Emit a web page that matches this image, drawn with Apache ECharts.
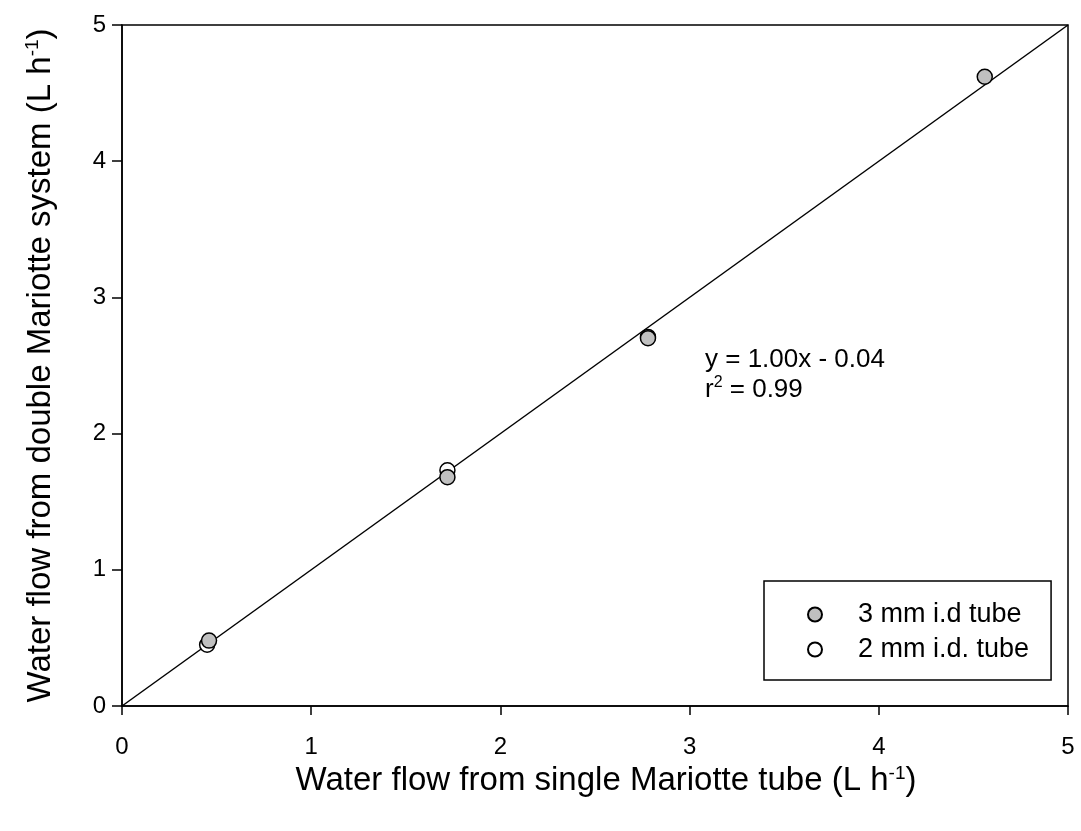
<!DOCTYPE html>
<html>
<head>
<meta charset="utf-8">
<script src="https://cdn.jsdelivr.net/npm/echarts@6/dist/echarts.min.js"></script>
<style>
  html, body { margin: 0; padding: 0; background: #fff; }
  #chart { width: 1081px; height: 831px; }
</style>
</head>
<body>
<div id="chart"></div>
<script>
// values
var tube3mm = [[0.46, 0.48], [1.72, 1.68], [2.78, 2.70], [4.56, 4.62]];
var tube2mm = [[0.45, 0.45], [1.72, 1.73], [2.78, 2.71]];
var oneToOne = [[0, 0], [5, 5]];
var axisTicks = [0, 1, 2, 3, 4, 5];

var font = 'Liberation Sans, Arial, sans-serif';
var myChart = echarts.init(document.getElementById('chart'));

var titleRich = {
  t: { fontSize: 33, fontFamily: font, color: '#000' },
  s: { fontSize: 19, fontFamily: font, color: '#000', verticalAlign: 'top', padding: [0, 0, 16, 0] }
};

var option = {
  backgroundColor: '#fff',
  animation: false,
  textStyle: { fontFamily: font, color: '#000' },
  grid: { left: 122, right: 13, top: 25, bottom: 125, show: true, borderColor: '#000', borderWidth: 1.5 },
  xAxis: {
    type: 'value', min: axisTicks[0], max: axisTicks[axisTicks.length - 1], interval: 1,
    name: '{t|Water flow from single Mariotte tube (L h}{s|-1}{t|)}',
    nameLocation: 'middle', nameGap: 51,
    nameTextStyle: { fontSize: 33, rich: titleRich, padding: [0, 0, 0, 22] },
    axisLine: { onZero: false, lineStyle: { color: '#000', width: 1.5 } },
    axisTick: { inside: false, length: 9, lineStyle: { color: '#000', width: 1.5 } },
    axisLabel: { fontSize: 24, color: '#000', margin: 29, fontFamily: font },
    splitLine: { show: false }
  },
  yAxis: {
    type: 'value', min: axisTicks[0], max: axisTicks[axisTicks.length - 1], interval: 1,
    name: '{t|Water flow from double Mariotte system (L h}{s|-1}{t|)}',
    nameLocation: 'middle', nameGap: 64,
    nameTextStyle: { fontSize: 33, rich: titleRich },
    axisLine: { onZero: false, lineStyle: { color: '#000', width: 1.5 } },
    axisTick: { inside: false, length: 10, lineStyle: { color: '#000', width: 1.5 } },
    axisLabel: { fontSize: 24, color: '#000', margin: 16, fontFamily: font },
    splitLine: { show: false }
  },
  legend: {
    orient: 'vertical', left: 764, top: 581,
    padding: [20, 22, 17, 43],
    itemWidth: 76, itemHeight: 14, itemGap: 8,
    borderColor: '#000', borderWidth: 1.5, borderRadius: 0,
    textStyle: { fontSize: 27, color: '#000', fontFamily: font },
    data: [{ name: '3 mm i.d tube', icon: 'circle' }, { name: '2 mm i.d. tube', icon: 'circle' }]
  },
  graphic: [{
    type: 'text', left: 705, top: 347,
    style: {
      text: '{t|y = 1.00x - 0.04}\n{t|r}{s|2}{t| = 0.99}',
      rich: {
        t: { fontSize: 26, fontFamily: font, fill: '#000', lineHeight: 30 },
        s: { fontSize: 16, fontFamily: font, fill: '#000', verticalAlign: 'top', lineHeight: 30, padding: [0, 0, 12, 0] }
      }
    }
  }],
  series: [
    {
      name: 'fit', type: 'line', data: oneToOne, showSymbol: false, symbol: 'none',
      lineStyle: { color: '#000', width: 1.5 }, z: 1, silent: true
    },
    {
      name: '2 mm i.d. tube', type: 'scatter', data: tube2mm, symbol: 'circle', symbolSize: 15,
      itemStyle: { color: '#fff', borderColor: '#000', borderWidth: 1.5, opacity: 1 }, z: 2
    },
    {
      name: '3 mm i.d tube', type: 'scatter', data: tube3mm, symbol: 'circle', symbolSize: 15,
      itemStyle: { color: '#c0c0c0', borderColor: '#000', borderWidth: 1.5, opacity: 1 }, z: 3
    }
  ]
};
myChart.setOption(option);
</script>
</body>
</html>
